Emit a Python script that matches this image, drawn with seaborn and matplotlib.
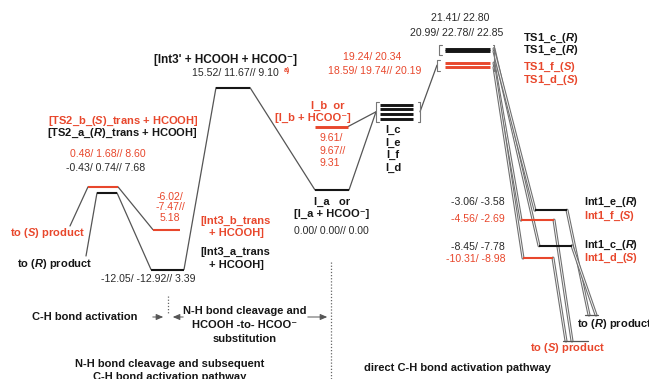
import matplotlib
matplotlib.use("Agg")
import matplotlib.pyplot as plt
import matplotlib.transforms as mtransforms
import matplotlib.patheffects as pe
import pandas as pd
import seaborn as sns

# ---------------- data: relative energies, kcal/mol ("m1/ m2// m3") ----------------
ts2_names = ["TS2_b", "TS2_a"]
ts2_values = ["0.48/ 1.68// 8.60", "-0.43/ 0.74// 7.68"]

int3_names = ["Int3_b", "Int3_a"]
int3_values = ["-6.02/ -7.47// 5.18", "-12.05/ -12.92// 3.39"]

int3p_value = "15.52/ 11.67// 9.10"

ia_value = "0.00/ 0.00// 0.00"
ib_value = "9.61/ 9.67// 9.31"

# I_c / I_e / I_f / I_d carry no printed value (estimated levels)
istack_names = ["I_c", "I_e", "I_f", "I_d"]
istack_energy = [12.9, 12.2, 11.5, 10.8]

ts1_names = ["TS1_c", "TS1_e", "TS1_f", "TS1_d"]
ts1_values = ["21.41/ 22.80", "20.99/ 22.78// 22.85", "19.24/ 20.34", "18.59/ 19.74// 20.19"]

int1_names = ["Int1_e", "Int1_f", "Int1_c", "Int1_d"]
int1_values = ["-3.06/ -3.58", "-4.56/ -2.69", "-8.45/ -7.78", "-10.31/ -8.98"]

s_branch = ["TS2_b", "Int3_b", "I_b", "TS1_f", "TS1_d", "Int1_f", "Int1_d"]


def first(v):
    return float(v.split("/")[0])


energy = {}
for names, vals in [(ts2_names, ts2_values), (int3_names, int3_values),
                    (ts1_names, ts1_values), (int1_names, int1_values)]:
    for n, v in zip(names, vals):
        energy[n] = first(v)
energy["Int3'"] = first(int3p_value)
energy["I_a"] = first(ia_value)
energy["I_b"] = first(ib_value)
for n, e in zip(istack_names, istack_energy):
    energy[n] = e

# ---------------- layout ----------------
W, H = 649, 379
Y0_PX, PX_PER_UNIT = 190.0, 6.6          # vertical placement of the energy axis


def e_at(py):
    return (Y0_PX - py) / PX_PER_UNIT


span = {
    "TS2_b": (88, 118), "TS2_a": (97, 117),
    "Int3_b": (153, 180), "Int3_a": (151, 184),
    "Int3'": (216, 250),
    "I_a": (315, 349), "I_b": (315, 348),
    "I_c": (380, 413), "I_e": (380, 413), "I_f": (380, 413), "I_d": (380, 413),
    "TS1_c": (445, 490), "TS1_e": (445, 490), "TS1_f": (445, 490), "TS1_d": (445, 490),
    "Int1_e": (535, 567), "Int1_f": (521, 554), "Int1_c": (539, 572), "Int1_d": (523, 553),
}
thick = set(["I_b"] + istack_names + ts1_names)

RED = "#e8472c"
BLACK = "#161616"
GREY = "#555555"
NUM_BLACK = "#2a2a2a"

sns.set_theme(style="white")
plt.rcParams["font.family"] = ["Liberation Sans", "DejaVu Sans"]
plt.rcParams["mathtext.fontset"] = "custom"
plt.rcParams["mathtext.it"] = "Liberation Sans:italic:bold"
plt.rcParams["mathtext.rm"] = "Liberation Sans:bold"
plt.rcParams["mathtext.bf"] = "Liberation Sans:bold"

fig = plt.figure(figsize=(W / 100, H / 100), dpi=100)
ax = fig.add_axes([0, 0, 1, 1])
ax.set_xlim(0, W)
ax.set_ylim(e_at(H), e_at(0))
ax.axis("off")
pix = mtransforms.Affine2D().scale(1 / W, -1 / H).translate(0, 1) + ax.transAxes

colour = {n: (RED if n in s_branch else BLACK) for n in energy}

# ---------------- energy levels ----------------
rows = []
for n, (x0, x1) in span.items():
    for x in (x0, x1):
        rows.append({"name": n, "x": x, "E": energy[n], "thick": n in thick})
lv = pd.DataFrame(rows)
for is_thick, lw in [(False, 1.5), (True, 2.1)]:
    sub = lv[lv["thick"] == is_thick]
    sns.lineplot(data=sub, x="x", y="E", units="name", hue="name", palette=colour,
                 estimator=None, sort=False, legend=False, lw=lw, ax=ax,
                 solid_capstyle="butt", zorder=3)


def L(n):
    return (span[n][0], energy[n])


def R(n):
    return (span[n][1], energy[n])


mid_stack = sum(istack_energy) / len(istack_energy)
red_ts1 = [energy["TS1_f"], energy["TS1_d"]]
blk_ts1 = [energy["TS1_c"], energy["TS1_e"]]

# ---------------- connectors ----------------
plain = [
    ((70, e_at(226)), L("TS2_b")),
    ((86, e_at(256)), L("TS2_a")),
    (R("TS2_b"), L("Int3_b")),
    (R("TS2_a"), L("Int3_a")),
    (R("Int3_a"), L("Int3'")),
    (R("Int3'"), L("I_a")),
    (R("I_a"), (376, mid_stack)),
    (R("I_b"), (376, mid_stack)),
    ((420, mid_stack), (437, sum(red_ts1) / 2)),
]
seg = []
for i, (a, b) in enumerate(plain):
    seg += [{"seg": i, "x": a[0], "E": a[1]}, {"seg": i, "x": b[0], "E": b[1]}]
sns.lineplot(data=pd.DataFrame(seg), x="x", y="E", units="seg", estimator=None,
             sort=False, color=GREY, lw=0.9, ax=ax, zorder=2)

# direct C-H activation paths drawn as hollow double lines
prod_R = {"Int1_e": (589, e_at(315)), "Int1_c": (596, e_at(315))}
prod_S = {"Int1_f": (572, e_at(341)), "Int1_d": (566, e_at(341))}
pairs = {"TS1_c": "Int1_c", "TS1_e": "Int1_e", "TS1_f": "Int1_f", "TS1_d": "Int1_d"}
hollow = []
for ts, it in pairs.items():
    hollow.append(((494, energy[ts]), L(it)))
for it, p in {**prod_R, **prod_S}.items():
    hollow.append((R(it), p))
seg = []
for i, (a, b) in enumerate(hollow):
    seg += [{"seg": i, "x": a[0], "E": a[1]}, {"seg": i, "x": b[0], "E": b[1]}]
sns.lineplot(data=pd.DataFrame(seg), x="x", y="E", units="seg", estimator=None,
             sort=False, color="white", lw=0.6, ax=ax, zorder=1,
             path_effects=[pe.Stroke(linewidth=2.2, foreground="#707070"), pe.Normal()])

# product end bars
ax.plot([585, 598], [e_at(315)] * 2, color=GREY, lw=0.9)
ax.plot([563, 588], [e_at(341)] * 2, color=GREY, lw=0.9)


# ---------------- brackets ----------------
def bracket(x, lo, hi, side, tick=2.5):
    d = tick if side == "left" else -tick
    ax.plot([x + d, x, x, x + d], [lo, lo, hi, hi], color="#777777", lw=0.8, zorder=2)


bracket(376, min(istack_energy) - 0.45, max(istack_energy) + 0.45, "left")
bracket(420, min(istack_energy) - 0.45, max(istack_energy) + 0.45, "right")
bracket(439, min(blk_ts1) - 0.5, max(blk_ts1) + 0.5, "left")
bracket(437, min(red_ts1) - 0.5, max(red_ts1) + 0.5, "left")
bracket(494, min(red_ts1) - 0.5, max(blk_ts1) + 0.5, "right", tick=1.5)

# ---------------- dotted separators and arrows ----------------
ax.plot([331, 331], [e_at(262), e_at(379)], color="#666666", lw=0.9, ls=(0, (1, 1.5)))
ax.plot([168, 168], [e_at(296), e_at(313)], color="#666666", lw=0.9, ls=(0, (1, 1.5)))
arrow = dict(arrowstyle="-|>,head_length=0.35,head_width=0.15", color="#555555", lw=0.7)
for a, b in [((150, 317), (166, 317)), ((186, 317), (170, 317)), ((305, 317), (330, 317))]:
    ax.annotate("", xy=b, xytext=a, xycoords=pix, textcoords=pix, arrowprops=arrow)


# ---------------- text ----------------
def txt(x, y, s, color=BLACK, bold=True, size=8.0, ha="center"):
    ax.text(x, y, s, transform=pix, color=color, ha=ha, va="center",
            fontsize=size, fontweight="bold" if bold else "normal", zorder=5)


def num(x, y, s, color=NUM_BLACK, ha="center"):
    txt(x, y, s, color=color, bold=False, size=7.6, ha=ha)


# N-H cleavage / C-H activation branch
txt(123, 121, "[TS2_b_($S$)_trans + HCOOH]", RED)
txt(122, 133, "[TS2_a_($R$)_trans + HCOOH]")
num(108, 154, ts2_values[0], RED)
num(106, 168, ts2_values[1])
txt(47, 233, "to ($S$) product", RED)
txt(55, 264, "to ($R$) product")
for k, part in enumerate(int3_values[0].split(" ")):
    num(170, 197 + 10.5 * k, part, RED)
num(148, 279, int3_values[1])
txt(236, 221, "[Int3_b_trans", RED)
txt(236, 233, "+ HCOOH]", RED)
txt(235, 252, "[Int3_a_trans")
txt(236, 265, "+ HCOOH]")
txt(226, 60, "[Int3' + HCOOH + HCOO\u207b]", size=8.5)
num(279, 73, int3p_value, ha="right")
txt(284, 70, "a)", RED, size=5.0, ha="left")

# I_a / I_b and the I_c-I_d stack
txt(328, 106, "I_b  or", RED)
txt(313, 118, "[I_b + HCOO\u207b]", RED)
for k, part in enumerate(ib_value.split(" ")):
    num(320, 138 + 12.5 * k, part, RED, ha="left")
txt(332, 202, "I_a   or")
txt(332, 214, "[I_a + HCOO\u207b]")
num(331, 231, ia_value)
for k, n in enumerate(istack_names):
    txt(393, 130 + 12.7 * k, n)

# TS1 group
num(460, 18, ts1_values[0])
num(457, 33, ts1_values[1])
num(372, 57, ts1_values[2], RED)
num(375, 71, ts1_values[3], RED)
for n, y in zip(ts1_names, [38, 50, 67, 80]):
    lab = n + ("_($R$)" if n in ("TS1_c", "TS1_e") else "_($S$)")
    txt(523, y, lab, colour[n], ha="left")

# Int1 group
for n, v, y in zip(int1_names, int1_values, [202, 219, 247, 259]):
    num(505, y, v, RED if n in s_branch else NUM_BLACK, ha="right")
for n, y in zip(int1_names, [202, 216, 245, 258]):
    lab = n + ("_($S$)" if n in s_branch else "_($R$)")
    txt(584, y, lab, colour[n], ha="left", size=7.8)
txt(577, 324, "to ($R$) product", ha="left")
txt(530, 348, "to ($S$) product", RED, ha="left")

# pathway captions
txt(85, 317, "C-H bond activation")
txt(245, 311, "N-H bond cleavage and")
txt(245, 325, "HCOOH -to- HCOO\u207b")
txt(245, 339, "substitution")
txt(170, 364, "N-H bond cleavage and subsequent")
txt(170, 377, "C-H bond activation pathway")
txt(457, 368, "direct C-H bond activation pathway")

fig.savefig("out.png", dpi=100, facecolor="white")
